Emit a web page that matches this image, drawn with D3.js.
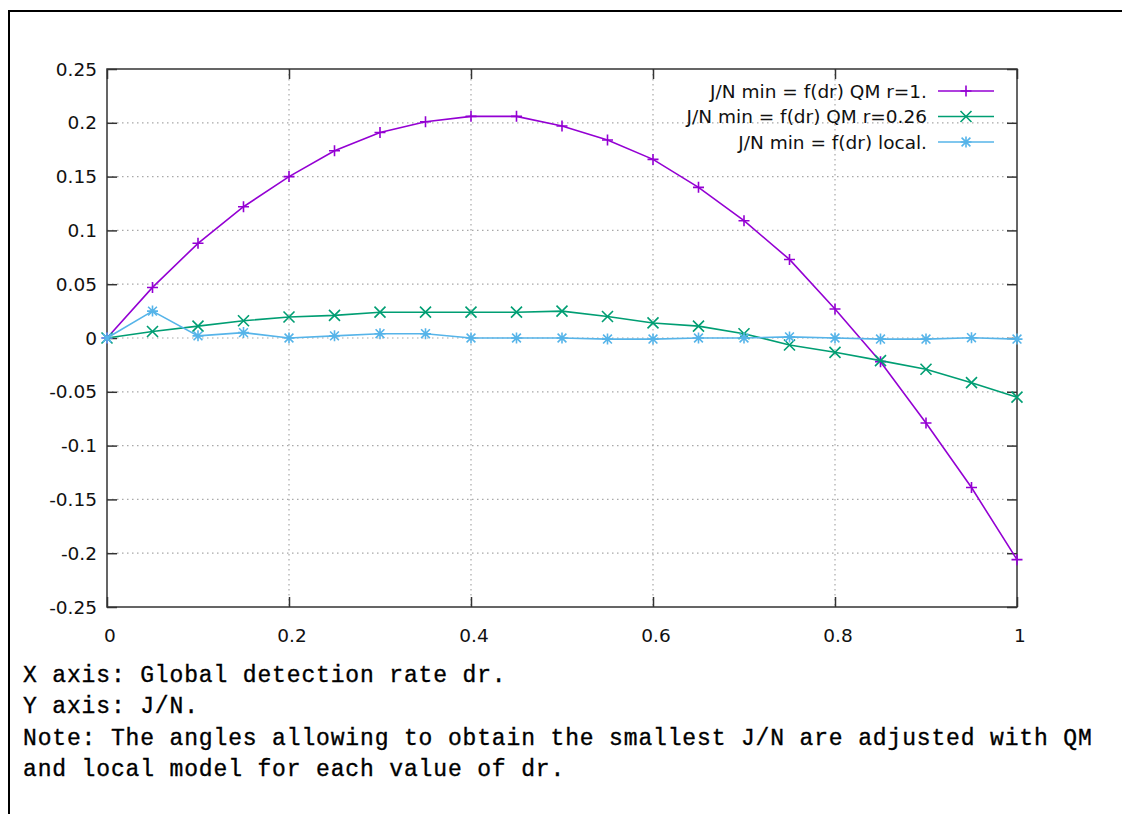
<!DOCTYPE html>
<html lang="en">
<head>
<meta charset="UTF-8">
<title>J/N min = f(dr)</title>
<script src="https://d3js.org/d3.v7.min.js"></script>
<style>
  body { margin: 0; background: #fff; }
  svg { display: block; }
  .tick-label { font-family: "DejaVu Sans", sans-serif; font-size: 18.5px; fill: #111; }
  .legend-label { font-family: "DejaVu Sans", sans-serif; font-size: 18.5px; fill: #111; }
  .note { font-family: "Liberation Mono", "DejaVu Sans Mono", monospace; font-size: 23px; fill: #000;
          stroke: #000; stroke-width: 0.35px; letter-spacing: 0.85px; }
</style>
</head>
<body>
<svg id="chart" width="1122" height="814"></svg>
<script>
// data
var drValues = [0, 0.05, 0.1, 0.15, 0.2, 0.25, 0.3, 0.35, 0.4, 0.45, 0.5,
                0.55, 0.6, 0.65, 0.7, 0.75, 0.8, 0.85, 0.9, 0.95, 1];
var qmR1 = [0, 0.047, 0.088, 0.122, 0.150, 0.174, 0.191, 0.201, 0.206, 0.206, 0.197,
            0.184, 0.166, 0.140, 0.109, 0.073, 0.027, -0.022, -0.079, -0.139, -0.206];
var qmR026 = [0, 0.006, 0.011, 0.016, 0.0195, 0.021, 0.024, 0.024, 0.024, 0.024, 0.025,
              0.020, 0.014, 0.011, 0.004, -0.0065, -0.0133, -0.021, -0.029, -0.0415, -0.055];
var localModel = [0, 0.025, 0.002, 0.005, 0, 0.002, 0.004, 0.004, 0, 0, 0,
                  -0.001, -0.001, 0, 0, 0.001, 0, -0.001, -0.001, 0.0003, -0.001];

var seriesNames = ["J/N min = f(dr) QM r=1.", "J/N min = f(dr) QM r=0.26", "J/N min = f(dr) local."];
var seriesColors = ["#9400d3", "#009e73", "#56b4e9"];
var seriesMarks = ["plus", "cross", "star"];
var xTicks = [0, 0.2, 0.4, 0.6, 0.8, 1];
var yTicks = [-0.25, -0.2, -0.15, -0.1, -0.05, 0, 0.05, 0.1, 0.15, 0.2, 0.25];
var noteLines = [
  "X axis: Global detection rate dr.",
  "Y axis: J/N.",
  "Note: The angles allowing to obtain the smallest J/N are adjusted with QM",
  "and local model for each value of dr."
];

var series = [qmR1, qmR026, localModel].map(function(vals, i) {
  return { name: seriesNames[i], color: seriesColors[i], mark: seriesMarks[i],
           points: vals.map(function(v, j) { return [drValues[j], v]; }) };
});

var svg = d3.select("#chart");
var pLeft = 107, pRight = 1017, pTop = 69, pBottom = 607;

var x = d3.scaleLinear().domain([0, 1]).range([pLeft, pRight]);
var y = d3.scaleLinear().domain([-0.25, 0.25]).range([pBottom, pTop]);

// outer frame (top and left lines only)
svg.append("line").attr("x1", 8).attr("x2", 1122).attr("y1", 11).attr("y2", 11)
  .attr("stroke", "#000").attr("stroke-width", 2);
svg.append("line").attr("x1", 9).attr("x2", 9).attr("y1", 10).attr("y2", 814)
  .attr("stroke", "#000").attr("stroke-width", 2);

// grid
var grid = svg.append("g").attr("stroke", "#a8a8a8").attr("stroke-width", 1.2)
  .attr("stroke-dasharray", "1.5,3.5");
grid.selectAll(".gy").data(yTicks.filter(function(t) { return t > -0.25 && t < 0.25; }))
  .join("line")
  .attr("x1", pLeft).attr("x2", pRight)
  .attr("y1", function(d) { return y(d); }).attr("y2", function(d) { return y(d); });
grid.selectAll(".gx").data(xTicks.filter(function(t) { return t > 0 && t < 1; }))
  .join("line")
  .attr("y1", pTop).attr("y2", pBottom)
  .attr("x1", function(d) { return x(d); }).attr("x2", function(d) { return x(d); });

// axes with inward ticks on all four sides
var fmt = function(d) { return String(+d.toFixed(2)); };
var tl = 10;
var yl = svg.append("g").attr("transform", "translate(" + pLeft + ",0)")
  .call(d3.axisRight(y).tickValues(yTicks).tickSize(tl).tickFormat(""));
var yr = svg.append("g").attr("transform", "translate(" + pRight + ",0)")
  .call(d3.axisLeft(y).tickValues(yTicks).tickSize(tl).tickFormat(""));
var xb = svg.append("g").attr("transform", "translate(0," + pBottom + ")")
  .call(d3.axisTop(x).tickValues(xTicks).tickSize(tl).tickFormat(""));
var xt = svg.append("g").attr("transform", "translate(0," + pTop + ")")
  .call(d3.axisBottom(x).tickValues(xTicks).tickSize(tl).tickFormat(""));
[yl, yr, xb, xt].forEach(function(g) {
  g.select(".domain").remove();
  g.selectAll("line").attr("stroke", "#333").attr("stroke-width", 1.5);
});

// plot frame
svg.append("rect").attr("x", pLeft).attr("y", pTop)
  .attr("width", pRight - pLeft).attr("height", pBottom - pTop)
  .attr("fill", "none").attr("stroke", "#333").attr("stroke-width", 1.5);

// tick labels
svg.append("g").selectAll("text").data(yTicks).join("text")
  .attr("class", "tick-label")
  .attr("x", 97).attr("y", function(d) { return y(d); })
  .attr("dy", "0.36em").attr("text-anchor", "end")
  .text(fmt);
svg.append("g").selectAll("text").data(xTicks).join("text")
  .attr("class", "tick-label")
  .attr("x", function(d) { return x(d) + 3; }).attr("y", 642)
  .attr("text-anchor", "middle")
  .text(fmt);

// markers
function markPath(type, r) {
  var p = "";
  if (type === "plus" || type === "star") {
    p += "M" + (-r) + ",0H" + r + "M0," + (-r) + "V" + r;
  }
  if (type === "cross" || type === "star") {
    var s = type === "star" ? r * 0.8 : r;
    p += "M" + (-s) + "," + (-s) + "L" + s + "," + s + "M" + (-s) + "," + s + "L" + s + "," + (-s);
  }
  return p;
}

var line = d3.line().x(function(d) { return x(d[0]); }).y(function(d) { return y(d[1]); });

series.forEach(function(s) {
  var g = svg.append("g");
  g.append("path").datum(s.points).attr("d", line)
    .attr("fill", "none").attr("stroke", s.color).attr("stroke-width", 1.6);
  g.selectAll("path.m").data(s.points).join("path").attr("class", "m")
    .attr("transform", function(d) { return "translate(" + x(d[0]) + "," + y(d[1]) + ")"; })
    .attr("d", markPath(s.mark, 5.5))
    .attr("fill", "none").attr("stroke", s.color).attr("stroke-width", 1.6);
});

// legend
var legend = svg.append("g");
series.forEach(function(s, i) {
  var ly = 91 + i * 25.5;
  legend.append("text").attr("class", "legend-label")
    .attr("x", 927).attr("y", ly).attr("dy", "0.36em").attr("text-anchor", "end")
    .text(s.name);
  legend.append("line").attr("x1", 938).attr("x2", 994).attr("y1", ly).attr("y2", ly)
    .attr("stroke", s.color).attr("stroke-width", 1.6);
  legend.append("path").attr("transform", "translate(966," + ly + ")")
    .attr("d", markPath(s.mark, 5.5))
    .attr("fill", "none").attr("stroke", s.color).attr("stroke-width", 1.6);
});

// note text under the chart
svg.append("g").selectAll("text").data(noteLines).join("text")
  .attr("class", "note")
  .attr("x", 23).attr("y", function(d, i) { return 682 + i * 31.3; })
  .text(function(d) { return d; });
</script>
</body>
</html>
